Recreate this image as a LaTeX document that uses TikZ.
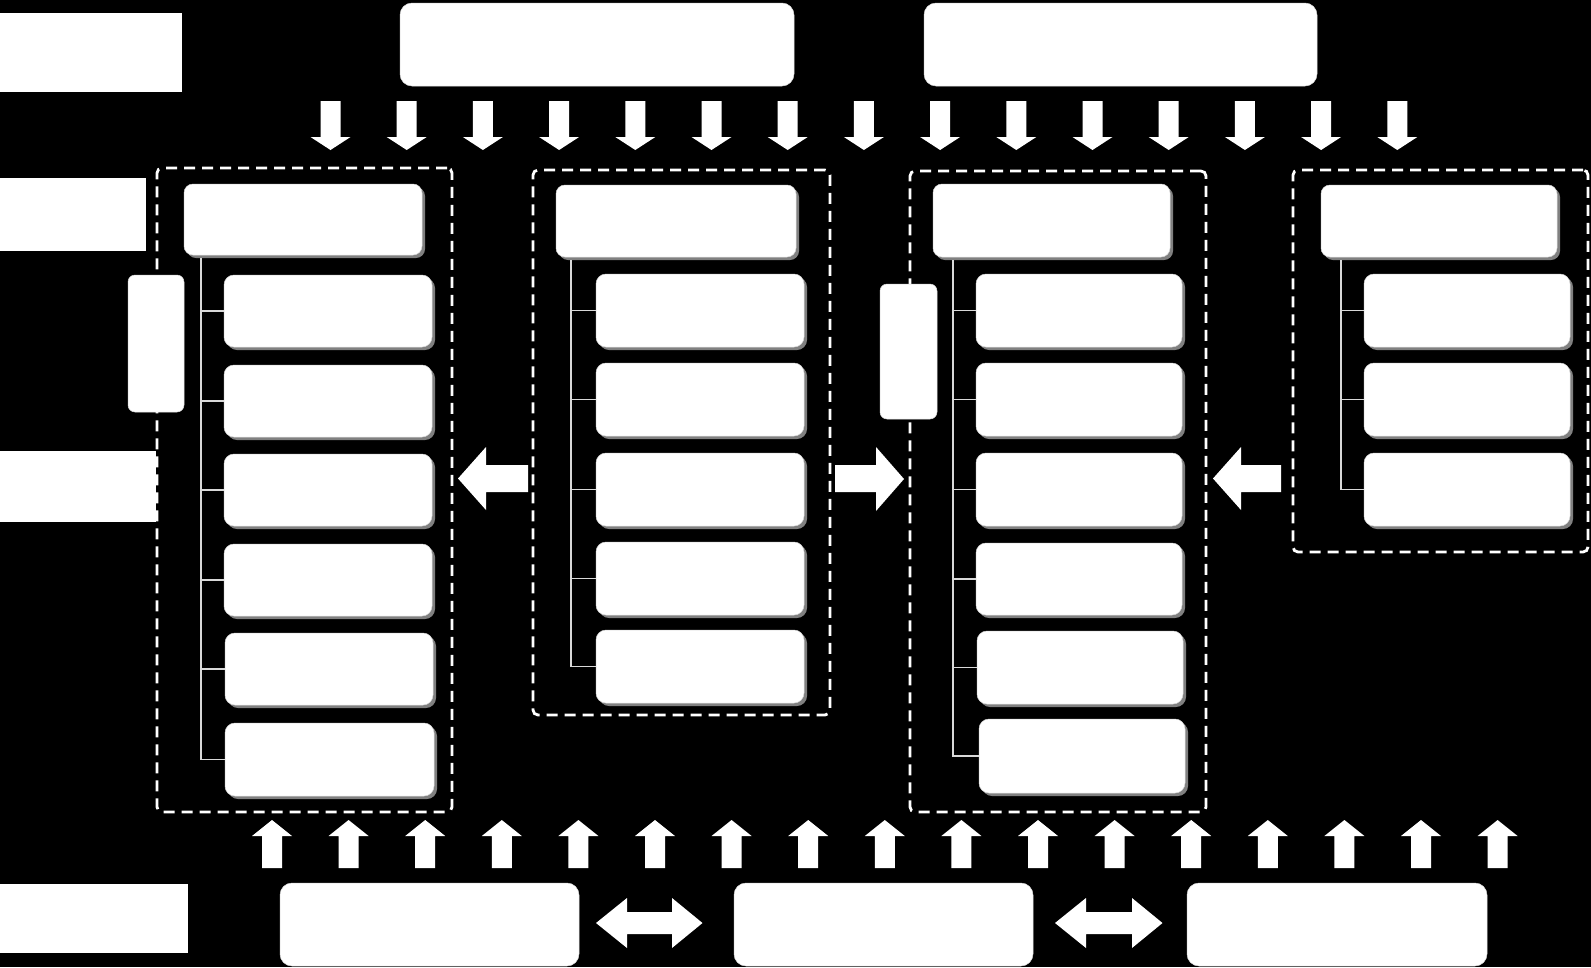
\documentclass[tikz,border=0pt]{standalone}
\usetikzlibrary{shadows}
\newcommand\Bx[6]{\node[#1, minimum width=#5pt, minimum height=#6pt] (#2) at (#3,#4) {};}
\begin{document}
\begin{tikzpicture}[x=1pt,y=-1pt,
  base/.style={rectangle, fill=white, inner sep=0pt, outer sep=0pt, anchor=north west},
  labbox/.style={base},
  bigbox/.style={base, draw=black!15, line width=0.5pt, rounded corners=12pt},
  smallbox/.style={base, draw=black!15, line width=0.5pt, rounded corners=7pt},
  hdrbox/.style={base, draw=black!15, line width=0.5pt, rounded corners=9pt,
    drop shadow={shadow xshift=3pt, shadow yshift=-3pt, fill=black!50, opacity=1}},
  subbox/.style={hdrbox, rounded corners=10pt},
  frame/.style={base, fill=none, draw=white, line width=2.8pt, dash pattern=on 11pt off 7pt, rounded corners=5pt},
  tree/.style={draw=white!85!black, line width=1.5pt},
  blk/.style={fill=white}
]
\useasboundingbox (0,0) rectangle (1591,967);
\fill[black] (0,0) rectangle (1591,967);

% left labels
\Bx{labbox}{L1}{0}{13}{182}{79}
\Bx{labbox}{L2}{0}{178}{146}{73}
\Bx{labbox}{L3}{0}{451}{156}{71}
\Bx{labbox}{L4}{0}{884}{188}{69}

% top boxes
\Bx{bigbox}{T1}{400}{3}{394}{83}
\Bx{bigbox}{T2}{924}{3}{393}{83}

% bottom boxes
\Bx{bigbox}{B1}{280}{883}{299}{83}
\Bx{bigbox}{B2}{734}{883}{299}{83}
\Bx{bigbox}{B3}{1187}{883}{300}{83}

% dashed frames
\Bx{frame}{F1}{157}{168}{295}{644}
\Bx{frame}{F2}{533}{170}{297}{545}
\Bx{frame}{F3}{910}{171}{296}{641}
\Bx{frame}{F4}{1293}{170}{295}{382}

% small side boxes
\Bx{smallbox}{S1}{128}{275}{56}{137}
\Bx{smallbox}{S3}{880}{284}{57}{135}

% headers
\Bx{hdrbox}{H1}{184}{184}{238}{71}
\Bx{hdrbox}{H2}{556}{185}{240}{72}
\Bx{hdrbox}{H3}{933}{184}{237}{73}
\Bx{hdrbox}{H4}{1321}{185}{236}{72}

% column 1
\Bx{subbox}{a1}{224}{275}{208}{72}
\Bx{subbox}{a2}{224}{365}{208}{72}
\Bx{subbox}{a3}{224}{454}{208}{72}
\Bx{subbox}{a4}{224}{544}{208}{72}
\Bx{subbox}{a5}{225}{633}{208}{72}
\Bx{subbox}{a6}{225}{723}{209}{73}
% column 2
\Bx{subbox}{b1}{596}{274}{208}{73}
\Bx{subbox}{b2}{596}{363}{208}{73}
\Bx{subbox}{b3}{596}{453}{208}{73}
\Bx{subbox}{b4}{596}{542}{208}{73}
\Bx{subbox}{b5}{596}{630}{208}{73}
% column 3
\Bx{subbox}{c1}{976}{274}{206}{73}
\Bx{subbox}{c2}{976}{363}{206}{73}
\Bx{subbox}{c3}{976}{453}{206}{73}
\Bx{subbox}{c4}{976}{543}{206}{72}
\Bx{subbox}{c5}{977}{631}{206}{73}
\Bx{subbox}{c6}{979}{719}{206}{74}
% column 4
\Bx{subbox}{d1}{1364}{274}{206}{73}
\Bx{subbox}{d2}{1364}{363}{206}{73}
\Bx{subbox}{d3}{1364}{453}{206}{73}

% tree connectors
\coordinate (t1) at (201,258);
\coordinate (t2) at (571,260);
\coordinate (t3) at (953,260);
\coordinate (t4) at (1341,260);
\foreach \n in {a1,a2,a3,a4,a5,a6} \draw[tree] (t1) |- (\n.west);
\foreach \n in {b1,b2,b3,b4,b5} \draw[tree] (t2) |- (\n.west);
\foreach \n in {c1,c2,c3,c4,c5,c6} \draw[tree] (t3) |- (\n.west);
\foreach \n in {d1,d2,d3} \draw[tree] (t4) |- (\n.west);

% down arrows
\foreach \k in {0,...,14}{
  \pgfmathsetmacro\cx{330.5+76.2*\k}
  \fill[blk] (\cx-10,101) -- (\cx+10,101) -- (\cx+10,137) -- (\cx+20,137) -- (\cx,150) -- (\cx-20,137) -- (\cx-10,137) -- cycle;
}
% up arrows
\foreach \k in {0,...,16}{
  \pgfmathsetmacro\cx{272+76.6*\k}
  \fill[blk] (\cx-10,868) -- (\cx+10,868) -- (\cx+10,836) -- (\cx+20,836) -- (\cx,820) -- (\cx-20,836) -- (\cx-10,836) -- cycle;
}

% horizontal block arrows
\fill[blk] (528,465) -- (486,465) -- (486,447) -- (458,478.5) -- (486,510) -- (486,492) -- (528,492) -- cycle;
\fill[blk] (835,465) -- (876,465) -- (876,447) -- (904,479) -- (876,511) -- (876,492) -- (835,492) -- cycle;
\fill[blk] (1281,465) -- (1241,465) -- (1241,447) -- (1213,478.5) -- (1241,510) -- (1241,492) -- (1281,492) -- cycle;

% double arrows
\fill[blk] (596,923) -- (627,898) -- (627,912) -- (672,912) -- (672,898) -- (702.5,923) -- (672,948) -- (672,934) -- (627,934) -- (627,948) -- cycle;
\fill[blk] (1055,923) -- (1086,898) -- (1086,912) -- (1132,912) -- (1132,898) -- (1162.5,923) -- (1132,948) -- (1132,934) -- (1086,934) -- (1086,948) -- cycle;
\end{tikzpicture}
\end{document}
